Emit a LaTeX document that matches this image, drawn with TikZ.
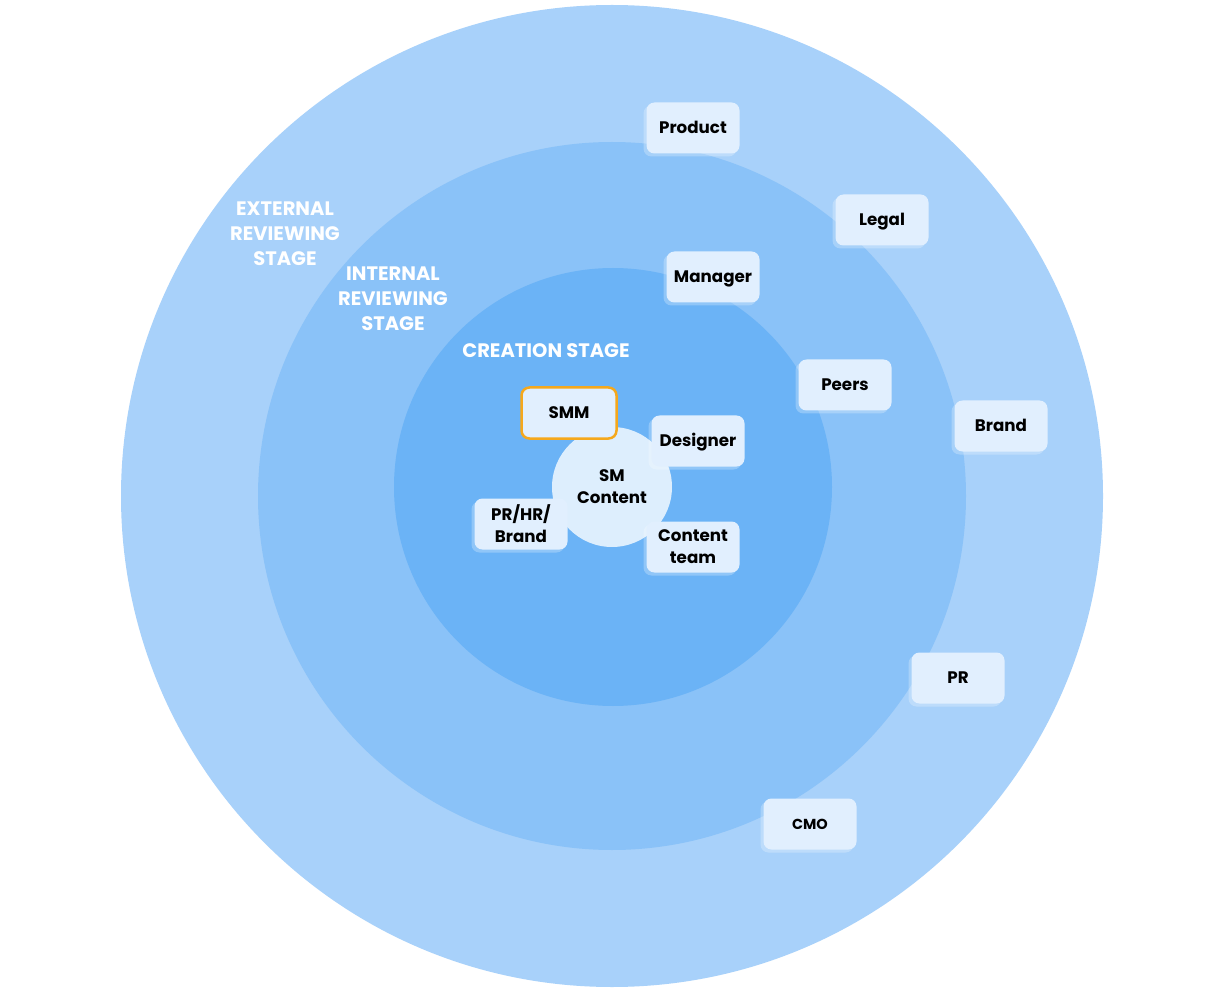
\documentclass[tikz,border=0pt]{standalone}
\usepackage{fontspec}
\setmainfont{Poppins}
\definecolor{outerc}{HTML}{A8D1FA}
\definecolor{midc}{HTML}{8AC2F8}
\definecolor{innerc}{HTML}{6BB3F6}
\definecolor{corec}{HTML}{DDEEFD}
\definecolor{boxc}{HTML}{E1EFFE}
\definecolor{orangec}{HTML}{F5A81C}
\begin{document}
\begin{tikzpicture}[x=1pt,y=-1pt,
  card/.style={fill=boxc, rounded corners=8pt, minimum width=93pt, minimum height=51pt,
    inner sep=0pt, align=center, font=\fontsize{16.7}{22}\selectfont\bfseries, text=black},
  oneline/.style={text height=14.5pt, text depth=3pt},
  cardshadow/.style={fill=white, fill opacity=0.25, rounded corners=8pt, minimum width=93pt,
    minimum height=51pt, inner sep=0pt},
  stage/.style={align=center, text=white, font=\fontsize{19.5}{25}\selectfont\bfseries}]
\useasboundingbox[fill=white] (0,0) rectangle (1211,992);
\fill[outerc] (612,496) circle (491);
\fill[midc] (612,496) circle (354);
\fill[innerc] (613,487) circle (219);
\node[circle, fill=corec, minimum size=120pt, inner sep=0pt, align=center,
  font=\fontsize{16.7}{22}\selectfont\bfseries] (core) at (612,487) {SM\\Content};

\node[stage] (ext) at (285,234) {EXTERNAL\\REVIEWING\\STAGE};
\node[stage] (int) at (393,299) {INTERNAL\\REVIEWING\\STAGE};
\node[stage] (cre) at (546,351) {CREATION STAGE};

\foreach \n/\x/\y/\t in {product/693/128/Product, legal/882/220/Legal, manager/713/277/Manager,
  peers/845/385/Peers, brand/1001/426/Brand, pr/958/678/PR, designer/698/441/Designer}{
  \node[cardshadow] at (\x-3,\y+3) {};
  \node[card, oneline] (\n) at (\x,\y) {\t};
}
\foreach \n/\x/\y/\t in {content/693/547/{Content\\team}, prhr/521/524/{PR/HR/\\Brand}}{
  \node[cardshadow] at (\x-3,\y+3) {};
  \node[card] (\n) at (\x,\y) {\t};
}
\node[cardshadow] at (807,827) {};
\node[card, oneline, font=\fontsize{14.5}{17}\selectfont\bfseries] (cmo) at (810,824) {CMO};
\node[card, oneline, draw=orangec, line width=2.5pt, minimum width=95pt, minimum height=51pt] (smm) at (569,413) {SMM};
\end{tikzpicture}
\end{document}
